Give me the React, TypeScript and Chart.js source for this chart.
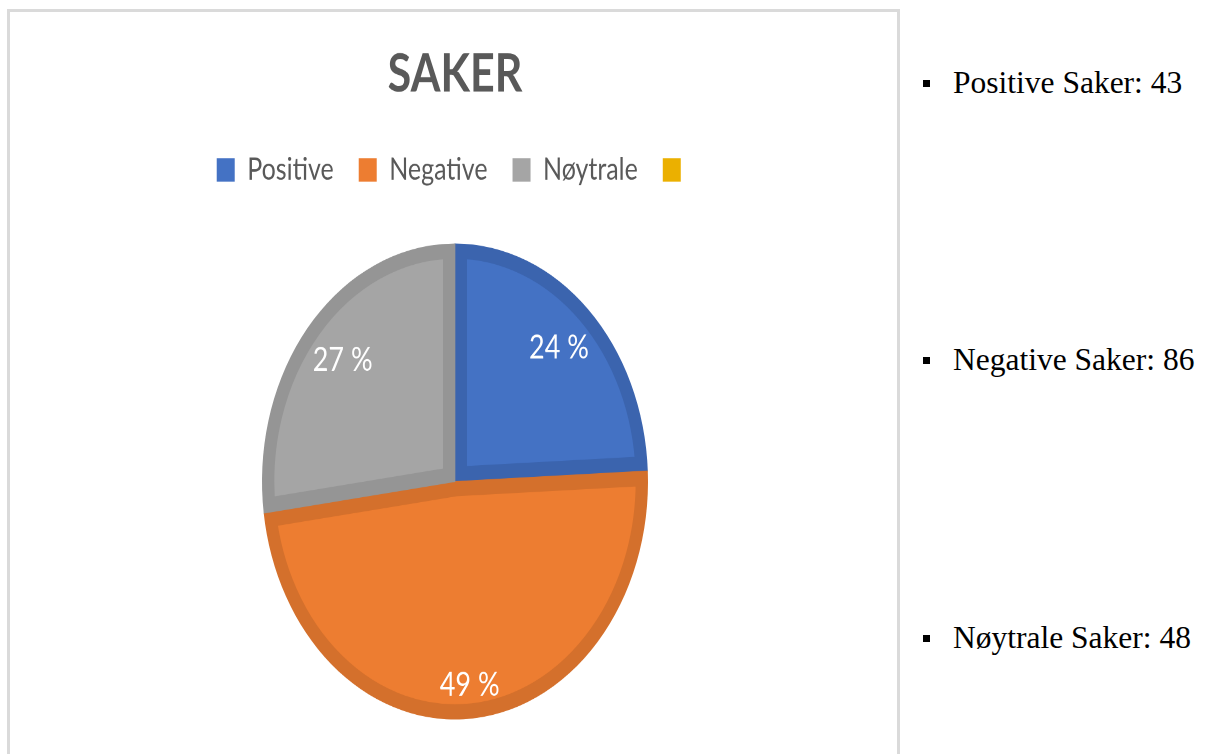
import React, { useEffect, useRef } from 'react';
import { Chart, registerables } from 'chart.js';

Chart.register(...registerables);

// ---- data ----
const chartTitle = 'SAKER';
const categories = ['Positive', 'Negative', 'Nøytrale', ''];
const caseCounts: (number | null)[] = [43, 86, 48, null];
const sideLabels = ['Positive Saker', 'Negative Saker', 'Nøytrale Saker'];
const sideValues = [43, 86, 48];

// ---- styles ----
const fillColors = ['#4472C4', '#ED7D31', '#A5A5A5', '#EBB000'];
const edgeColors = ['#3B64AE', '#D4702C', '#959595', '#EBB000'];
const STRETCH_Y = 1.233;
const sideTextTops = [66.6, 343.6, 621.6];

const pieLabelPlugin = {
  id: 'pieLabels',
  afterDatasetsDraw(chart: any) {
    const ctx = chart.ctx;
    const meta = chart.getDatasetMeta(0);
    const data = chart.data.datasets[0].data as (number | null)[];
    const total = data.reduce((s: number, v) => s + (v ?? 0), 0);
    ctx.save();
    ctx.font = '27px Lato';
    ctx.fillStyle = '#FFFFFF';
    ctx.textAlign = 'center';
    ctx.textBaseline = 'middle';
    meta.data.forEach((arc: any, i: number) => {
      const v = data[i];
      if (!v) return;
      const { x, y, startAngle, endAngle, outerRadius } = arc.getProps(
        ['x', 'y', 'startAngle', 'endAngle', 'outerRadius'],
        true
      );
      const mid = (startAngle + endAngle) / 2;
      const text = Math.round((v / total) * 100) + ' %';
      const w = ctx.measureText(text).width;
      const h = 19;
      const d =
        outerRadius - 15 - ((w / 2) * Math.abs(Math.cos(mid)) + (h / 2) * Math.abs(Math.sin(mid)));
      ctx.fillText(text, x + d * Math.cos(mid), y + d * Math.sin(mid));
    });
    ctx.restore();
  },
};

export default function App() {
  const canvasRef = useRef<HTMLCanvasElement>(null);

  useEffect(() => {
    const canvas = canvasRef.current;
    if (!canvas) return;
    const chart = new Chart(canvas, {
      type: 'pie',
      data: {
        labels: categories,
        datasets: [
          {
            data: caseCounts as any,
            backgroundColor: fillColors,
            borderColor: edgeColors,
            borderWidth: 12,
            borderAlign: 'inner',
            radius: 193,
          } as any,
        ],
      },
      options: {
        responsive: false,
        animation: false,
        devicePixelRatio: 2,
        events: [],
        layout: { padding: { left: 3, right: 0, top: 0, bottom: 0 } },
        plugins: {
          title: {
            display: true,
            text: chartTitle,
            color: '#595959',
            font: { family: 'Lato', size: 43, weight: 'bold' },
            padding: { top: 25, bottom: 14 },
          },
          legend: {
            display: true,
            position: 'top',
            labels: {
              boxWidth: 18,
              boxHeight: 19,
              padding: 25,
              color: '#595959',
              font: { family: 'Lato', size: 25 },
              generateLabels: (c: any) =>
                (c.data.labels as string[]).map((t, i) => ({
                  text: t,
                  fillStyle: fillColors[i],
                  strokeStyle: fillColors[i],
                  lineWidth: 0,
                  hidden: false,
                  index: i,
                  fontColor: '#595959',
                })),
            },
          },
          tooltip: { enabled: false },
        },
      } as any,
      plugins: [pieLabelPlugin],
    });
    return () => chart.destroy();
  }, []);

  return (
    <div style={{ position: 'fixed', inset: 0, overflow: 'hidden', background: '#FFFFFF' }}>
      <div
        style={{
          position: 'absolute',
          left: 7,
          top: 9,
          width: 893,
          height: 800,
          border: '3px solid #DADADA',
          boxSizing: 'border-box',
        }}
      />
      <div
        style={{
          position: 'absolute',
          left: 10,
          top: 12,
          width: 887,
          height: 611,
          transform: `scaleY(${STRETCH_Y})`,
          transformOrigin: '0 0',
        }}
      >
        <canvas ref={canvasRef} width={887} height={611} style={{ display: 'block', width: 887, height: 611 }} />
      </div>
      {sideLabels.map((label, i) => (
        <div
          key={label}
          style={{
            position: 'absolute',
            left: 953,
            top: sideTextTops[i],
            fontFamily: "'Liberation Serif', 'Times New Roman', serif",
            fontSize: 31.5,
            lineHeight: '31.5px',
            color: '#000000',
            whiteSpace: 'nowrap',
          }}
        >
          <span
            style={{
              position: 'absolute',
              left: -30,
              top: 13.5,
              width: 7,
              height: 7,
              background: '#000000',
            }}
          />
          {`${label}: ${sideValues[i]}`}
        </div>
      ))}
    </div>
  );
}
